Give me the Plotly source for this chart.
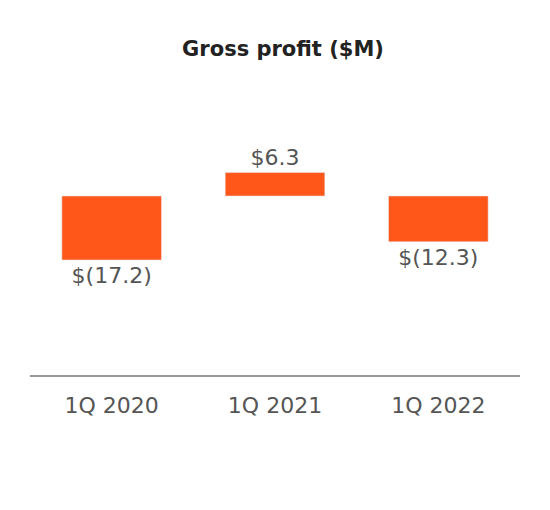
import plotly.graph_objects as go

categories = ["1Q 2020", "1Q 2021", "1Q 2022"]
values = [-17.2, 6.3, -12.3]
labels = ["$(17.2)", "$6.3", "$(12.3)"]

fig = go.Figure(go.Bar(
    x=categories, y=values, text=labels, textposition="outside",
    marker_color="#FF5619", width=0.61, cliponaxis=False,
    textfont=dict(size=22, color="#555555", family="DejaVu Sans"),
))
fig.update_layout(
    width=550, height=510, plot_bgcolor="white", paper_bgcolor="white",
    margin=dict(l=22, r=38, t=92, b=143),
    title=dict(text="<b>Gross profit ($M)</b>", x=0.5, y=0.935, xanchor="center",
               font=dict(size=21, color="#222222", family="DejaVu Sans")),
    xaxis=dict(showline=True, linecolor="#999999", linewidth=1.5,
               ticks="outside", ticklen=10, tickcolor="white",
               tickfont=dict(size=22, color="#555555", family="DejaVu Sans")),
    yaxis=dict(visible=False, range=[-48.1, 25.8], showgrid=False, zeroline=False),
    showlegend=False,
)
fig.write_html("out.html")
